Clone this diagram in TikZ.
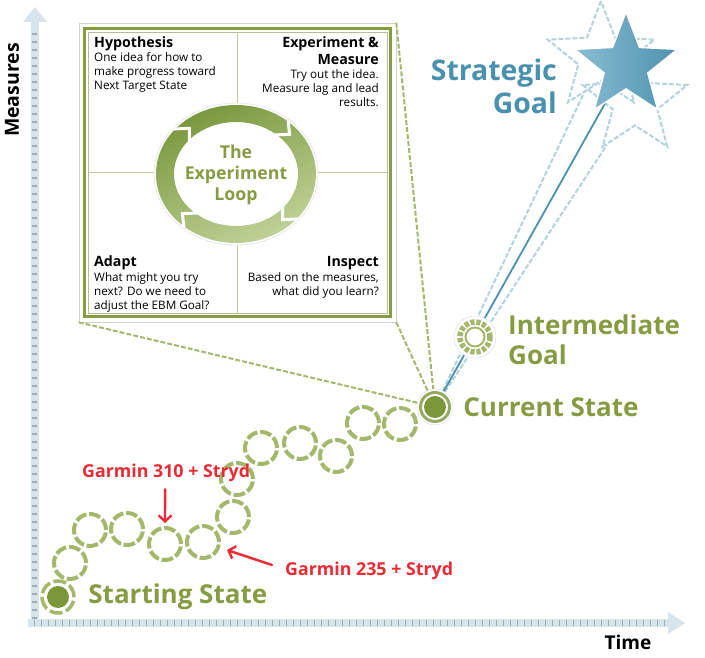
\documentclass[tikz,border=0pt]{standalone}
\usepackage{fontspec}
\setmainfont{Open Sans}
\usetikzlibrary{shapes.geometric,arrows.meta,positioning,calc}
\definecolor{StepClr}{RGB}{163,184,106}
\definecolor{TextGreen}{RGB}{134,156,66}
\definecolor{DotClr}{RGB}{124,150,58}
\definecolor{LoopDark}{RGB}{122,152,62}
\definecolor{LoopLight}{RGB}{192,210,152}
\definecolor{GoalBlue}{RGB}{74,145,175}
\definecolor{StarLight}{RGB}{138,190,210}
\definecolor{StarDark}{RGB}{78,145,174}
\definecolor{DashBlue}{RGB}{178,210,224}
\definecolor{AxisClr}{RGB}{214,228,236}
\definecolor{TickClr}{RGB}{160,170,176}
\definecolor{NoteRed}{RGB}{234,42,52}

\begin{document}
\begin{tikzpicture}[x=1pt,y=1pt,
  ringstep/.style={circle,draw=StepClr,line width=4pt,dash pattern=on 11.5pt off 2.9pt,minimum size=32pt,inner sep=0pt},
  bigtxt/.style={font=\bfseries\fontsize{26}{30}\selectfont,text=TextGreen,inner sep=0pt,align=left},
  head/.style={font=\bfseries\fontsize{14.2}{17}\selectfont,inner sep=0pt},
  quad/.style={font=\fontsize{11.7}{14}\selectfont,inner sep=0pt},
  note/.style={font=\bfseries\fontsize{17.8}{20}\selectfont,text=NoteRed,inner sep=0pt,anchor=west},
  notearrow/.style={NoteRed,line width=2.4pt,line cap=round,-{Straight Barb[length=6pt,width=13pt]}},
  greendash/.style={StepClr,line width=2pt,dash pattern=on 5pt off 2pt},
  bluedash/.style={DashBlue,line width=2pt,dash pattern=on 5pt off 2pt}]
\useasboundingbox (0,0) rectangle (705,658);

% axes
\fill[AxisClr] (31,33) rectangle (39,636);
\fill[AxisClr] (23,636) -- (47,636) -- (35,651) -- cycle;
\foreach \y in {40,48,...,630}
  \draw[TickClr,line width=1.2pt] (32,\y) -- (37,\y);
\fill[AxisClr] (28,31) rectangle (668,39);
\fill[AxisClr] (668,24) -- (668,46) -- (685,35) -- cycle;
\foreach \x in {34,41,...,664}
  \draw[TickClr,line width=1pt] (\x,32) -- (\x,38);
\node[rotate=90,font=\bfseries\fontsize{19.5}{21}\selectfont] (meas) at (12,568) {Measures};
\node[font=\bfseries\fontsize{19}{21}\selectfont] (time) at (628,16) {Time};

% experiment loop box
\node[draw=gray!35,line width=0.6pt,fill=white,minimum width=317pt,minimum height=299pt,inner sep=0pt] (loop) at (237.5,485.5) {};
\draw[TextGreen,line width=3pt] (84.5,341.5) rectangle (390.5,629.5);
\draw[StepClr!60!gray!70,line width=0.8pt] (88,345) rectangle (387,626);
\draw[StepClr!70,line width=1pt] (237,345) -- (237,626);
\draw[StepClr!70,line width=1pt] (88,485) -- (387,485);
\fill[white,draw=gray!30] (236,484) ellipse [x radius=82,y radius=71];
\path[even odd rule,top color=LoopDark,bottom color=LoopLight,shading angle=25]
  (236,484) ellipse [x radius=80,y radius=69] (236,484) ellipse [x radius=62,y radius=52];
\foreach \a in {50,-40,-130,140}
  \draw[white,line width=3pt] ($(236,484)+({\a}:81 and 70)$) -- ($(236,484)+({\a-9}:71 and 60.5)$) -- ($(236,484)+({\a}:61 and 51)$);
\node[font=\bfseries\fontsize{17.7}{21}\selectfont,text=TextGreen,align=center] (title) at (236,483) {The\\Experiment\\Loop};

\node[head,anchor=north west] (hyp) at (94,621) {Hypothesis};
\node[quad,anchor=north west,align=left] (hyptxt) at (94,606) {One idea for how to\\make progress toward\\Next Target State};
\node[head,anchor=north east,align=right] (exp) at (379,621) {Experiment \&\\Measure};
\node[quad,anchor=north east,align=right] (exptxt) at (379,589) {Try out the idea.\\Measure lag and lead\\results.};
\node[head,anchor=north west] (adapt) at (94,402) {Adapt};
\node[quad,anchor=north west,align=left] (adapttxt) at (94,386) {What might you try\\next? Do we need to\\adjust the EBM Goal?};
\node[head,anchor=north east] (insp) at (379,402) {Inspect};
\node[quad,anchor=north east,align=right] (insptxt) at (379,386) {Based on the measures,\\what did you learn?};

% states
\node[circle,fill=white,draw=gray!30,minimum size=36pt,inner sep=0pt] (cur) at (435,251) {};
\draw[greendash] (loop.north east) -- (cur);
\draw[greendash] (loop.south east) -- (cur);
\draw[greendash] (loop.south west) -- (cur);

\foreach \p [count=\i] in {(70,95),(90,128),(127,129),(165,114),(203,116),(233,141),(237,179),(261,210),(300,215),(336,202),(363,235),(400,234)}
  \node[ringstep] (s\i) at \p {};

\node[circle,fill=DotClr,minimum size=22pt,inner sep=0pt] (start) at (58,61) {};
\draw[StepClr,line width=3.5pt,dash pattern=on 13pt off 3.7pt] (start) circle[radius=16];
\node[bigtxt,right=19pt of start] (startlbl) {Starting State};

% goals
\node[star,star points=5,star point ratio=2.35,minimum size=112pt,inner sep=0pt,draw=DashBlue,line width=2pt,dash pattern=on 5pt off 2pt] (ds1) at (601,601) {};
\node[star,star points=5,star point ratio=2.35,minimum size=110pt,inner sep=0pt,draw=DashBlue,line width=2pt,dash pattern=on 5pt off 2pt] (ds2) at (635,556) {};
\draw[bluedash] (cur) -- (ds1);
\draw[bluedash] (cur) -- (ds2);
\node[star,star points=5,star point ratio=2.35,minimum size=108pt,inner sep=0pt] (goal) at (626,592) {};
\draw[GoalBlue,line width=1.8pt] (cur) -- (goal.center);
\node[star,star points=5,star point ratio=2.35,minimum size=108pt,inner sep=0pt,left color=StarLight,right color=StarDark,draw=white,line width=1.5pt] at (goal) {};
\node[font=\bfseries\fontsize{28.4}{33}\selectfont,text=GoalBlue,align=right,anchor=east,inner sep=0pt] (goallbl) at (557,572) {Strategic\\Goal};

\node[circle,fill=white,draw=gray!30,minimum size=42pt,inner sep=0pt] (mid) at (475,321) {};
\draw[StepClr,line width=5.5pt,dash pattern=on 4.2pt off 1.8pt] (mid) circle[radius=15];
\draw[StepClr,line width=2pt] (mid) circle[radius=9.5];
\node[bigtxt,anchor=west] (midlbl) at (508,318) {Intermediate\\Goal};

\draw[DotClr!80,line width=3pt] (cur) circle[radius=14.5];
\fill[DotClr] (cur) circle[radius=11];
\node[bigtxt,right=10pt of cur] (curlbl) {Current State};

% notes
\node[note] (n310) at (82,185) {Garmin 310 + Stryd};
\node[note] (n235) at (285,87) {Garmin 235 + Stryd};
\coordinate (t310) at (165,135);
\coordinate (t235) at (227,108);
\draw[notearrow] ([xshift=-1pt,yshift=-7pt]n310.south) -- (t310);
\draw[notearrow] ([xshift=-13pt,yshift=6pt]n235.west) -- (t235);
\end{tikzpicture}
\end{document}
